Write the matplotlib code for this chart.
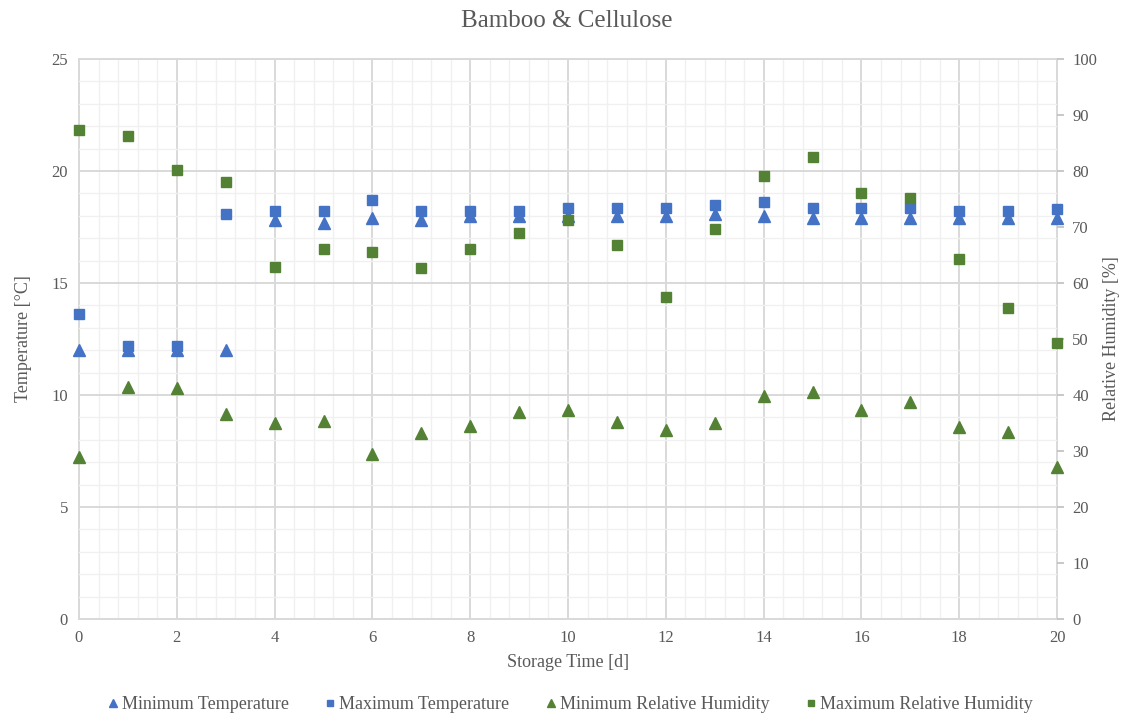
import numpy as np
import matplotlib.pyplot as plt
from matplotlib.ticker import MultipleLocator

# storage days
days = list(range(0, 21))

# temperatures [°C]
t_min = [12.0, 12.0, 12.0, 12.0, 17.8, 17.7, 17.9, 17.8, 18.0, 18.0, 18.0,
         18.0, 18.0, 18.1, 18.0, 17.9, 17.9, 17.9, 17.9, 17.9, 17.9]
t_max = [13.6, 12.2, 12.2, 18.1, 18.2, 18.2, 18.7, 18.2, 18.2, 18.2, 18.35,
         18.35, 18.35, 18.5, 18.6, 18.35, 18.35, 18.35, 18.2, 18.2, 18.3]

# relative humidity [%]
rh_min = [28.9, 41.4, 41.2, 36.6, 35.0, 35.3, 29.5, 33.2, 34.5, 37.0, 37.3,
          35.1, 33.8, 35.0, 39.8, 40.6, 37.3, 38.7, 34.2, 33.3, 27.1]
rh_max = [87.3, 86.2, 80.2, 78.0, 62.9, 66.0, 65.6, 62.6, 66.0, 68.9, 71.3,
          66.8, 57.5, 69.6, 79.1, 82.5, 76.1, 75.1, 64.2, 55.6, 49.2]

blue = '#4472C4'
green = '#548235'
txt = '#595959'

plt.rcParams['font.family'] = ['Liberation Serif', 'DejaVu Serif']

fig = plt.figure(figsize=(11.22, 7.15), dpi=100)
ax = fig.add_axes([0.0704, 0.1343, 0.8717, 0.7832])
ax2 = ax.twinx()

# grid
ax.set_xlim(0, 20)
ax.set_ylim(0, 25)
ax.xaxis.set_major_locator(MultipleLocator(2))
ax.xaxis.set_minor_locator(MultipleLocator(0.4))
ax.yaxis.set_major_locator(MultipleLocator(5))
ax.yaxis.set_minor_locator(MultipleLocator(1))
ax.grid(which='major', color='#d9d9d9', linewidth=1.4)
ax.grid(which='minor', color='#f0f0f0', linewidth=1.0)
ax.set_axisbelow(True)

ax2.set_ylim(0, 100)
ax2.yaxis.set_major_locator(MultipleLocator(10))

for s in ax.spines.values():
    s.set_color('#d9d9d9')
    s.set_linewidth(1.4)
    s.set_zorder(0.5)
for s in ax2.spines.values():
    s.set_visible(False)
ax.tick_params(which='both', length=0, labelsize=12, colors=txt, pad=8)
ax2.tick_params(which='major', length=5, width=1.2, color='#bfbfbf',
                labelcolor=txt, labelsize=12, pad=6)

h1, = ax.plot(days, t_min, linestyle='none', marker='^', markersize=8,
              color=blue, label='Minimum Temperature', clip_on=False, zorder=3)
h2, = ax.plot(days, t_max, linestyle='none', marker='s', markersize=7,
              color=blue, label='Maximum Temperature', clip_on=False, zorder=3)
h3, = ax2.plot(days, rh_min, linestyle='none', marker='^', markersize=8,
               color=green, label='Minimum Relative Humidity', clip_on=False, zorder=3)
h4, = ax2.plot(days, rh_max, linestyle='none', marker='s', markersize=7,
               color=green, label='Maximum Relative Humidity', clip_on=False, zorder=3)

ax.set_xlabel('Storage Time [d]', fontsize=13, color=txt, labelpad=6)
ax.set_ylabel('Temperature [°C]', fontsize=13, color=txt, labelpad=14)
ax2.set_ylabel('Relative Humidity [%]', fontsize=13, color=txt, labelpad=4)

fig.text(0.505, 0.97, 'Bamboo & Cellulose', ha='center', va='center',
         fontsize=18, color=txt)

leg = fig.legend(handles=[h1, h2, h3, h4], loc='center', ncol=4,
                 bbox_to_anchor=(0.508, 0.014), frameon=False, fontsize=13,
                 markerscale=0.7, handlelength=0.6, handletextpad=0.2,
                 columnspacing=2.0)
for t in leg.get_texts():
    t.set_color(txt)

plt.savefig('out.png', dpi=100)
